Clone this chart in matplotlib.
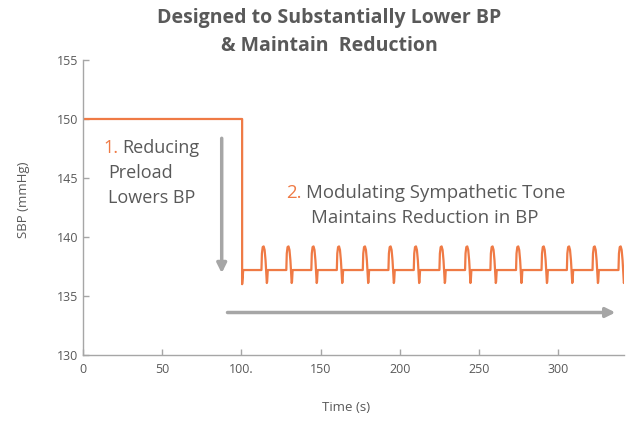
import matplotlib.pyplot as plt
import numpy as np

plt.rcParams['font.family'] = ['Open Sans', 'DejaVu Sans']

orange = '#EF7A45'
grey_text = '#595959'
grey_axis = '#A6A6A6'

# before the drop
plateau_time = [0, 100.5]
plateau_sbp = [150, 150]
drop_time = [100.5, 100.5, 101.2]
drop_sbp = [150, 136.0, 137.2]

# pulses after the drop (start time of each beat)
beat_times = [112.7, 128.4, 144.2, 160.3, 176.7, 192.9, 208.9, 225.1,
              241.3, 257.3, 273.5, 289.6, 305.6, 321.8, 338.2]
pulse_offset = [0, 0.3, 0.8, 1.4, 2.0, 2.6, 3.0, 3.4, 3.6, 4.0]
pulse_sbp = [137.2, 138.6, 139.15, 139.2, 138.9, 138.0, 137.0, 136.1, 136.2, 137.2]
baseline_sbp = 137.2

xticks = [0, 50, 100, 150, 200, 250, 300]
xtick_labels = ['0', '50', '100.', '150', '200', '250', '300']
yticks = [130, 135, 140, 145, 150, 155]

t = plateau_time + drop_time
y = plateau_sbp + drop_sbp
for b in beat_times:
    t += [b + o for o in pulse_offset]
    y += pulse_sbp
t.append(345)
y.append(baseline_sbp)

fig = plt.figure(figsize=(6.26, 4.21), dpi=100)
ax = fig.add_axes([0.1326, 0.1568, 0.865, 0.7007])

ax.plot(t, y, color=orange, lw=1.6, solid_joinstyle='round')

ax.set_xlim(0, 342)
ax.set_ylim(130, 155)
ax.set_xticks(xticks)
ax.set_xticklabels(xtick_labels)
ax.set_yticks(yticks)
ax.tick_params(direction='in', colors=grey_axis, labelcolor=grey_text, labelsize=9, length=4, width=1)
ax.tick_params(axis='x', pad=6)
for s in ['top', 'right']:
    ax.spines[s].set_visible(False)
for s in ['left', 'bottom']:
    ax.spines[s].set_color(grey_axis)
    ax.spines[s].set_linewidth(1)

ax.set_xlabel('Time (s)', color=grey_text, fontsize=9.5)
ax.set_ylabel('SBP (mmHg)', color=grey_text, fontsize=9.5)
ax.xaxis.set_label_coords(0.485, -0.155)
ax.yaxis.set_label_coords(-0.098, 0.525)

# arrows
ax.annotate('', xy=(87.6, 136.7), xytext=(87.6, 148.6),
            arrowprops=dict(arrowstyle='-|>', color=grey_axis, lw=2.5, mutation_scale=14))
ax.annotate('', xy=(338, 133.6), xytext=(89.5, 133.6),
            arrowprops=dict(arrowstyle='-|>', color=grey_axis, lw=2.5, mutation_scale=14))

# annotations
ax.text(12.6, 147.55, '1.', color=orange, fontsize=13, va='center')
ax.text(24.5, 147.55, 'Reducing', color=grey_text, fontsize=13, va='center')
ax.text(15.8, 145.4, 'Preload', color=grey_text, fontsize=13, va='center')
ax.text(15.8, 143.3, 'Lowers BP', color=grey_text, fontsize=13, va='center')

ax.text(128.3, 143.75, '2.', color=orange, fontsize=13.4, va='center')
ax.text(141.0, 143.75, 'Modulating Sympathetic Tone', color=grey_text, fontsize=13.4, va='center')
ax.text(144.2, 141.6, 'Maintains Reduction in BP', color=grey_text, fontsize=13.4, va='center')

fig.text(0.5256, 0.957, 'Designed to Substantially Lower BP', color=grey_text,
         fontsize=14, fontweight='bold', ha='center', va='center')
fig.text(0.5256, 0.891, '& Maintain  Reduction', color=grey_text,
         fontsize=14, fontweight='bold', ha='center', va='center')

fig.savefig('out.png', dpi=100)
